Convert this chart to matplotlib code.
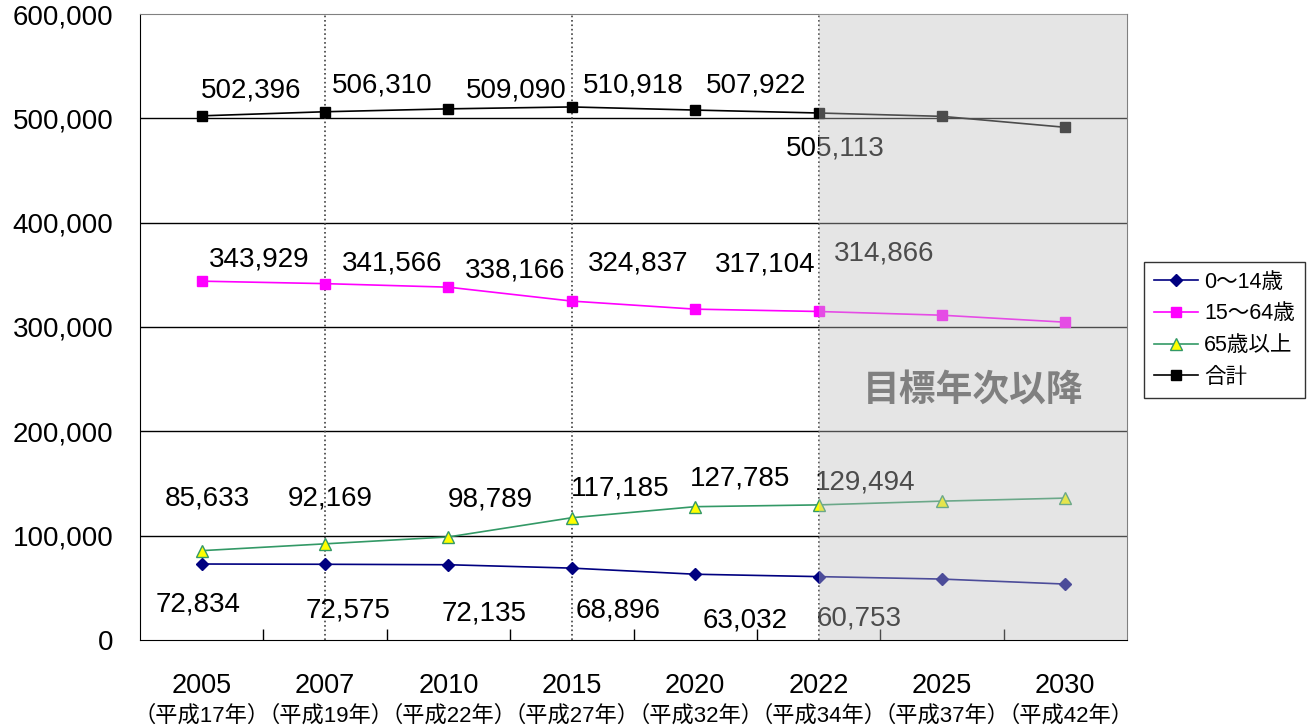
import matplotlib
matplotlib.use("Agg")
import matplotlib.pyplot as plt
from matplotlib.patches import Rectangle
from matplotlib.font_manager import FontProperties
import matplotlib.transforms as mtransforms

plt.rcParams['font.family'] = ['Liberation Sans', 'Noto Sans CJK JP', 'DejaVu Sans']

years = ["2005", "2007", "2010", "2015", "2020", "2022", "2025", "2030"]
eras = ["（平成17年）", "（平成19年）", "（平成22年）", "（平成27年）",
        "（平成32年）", "（平成34年）", "（平成37年）", "（平成42年）"]
series_names = ["0～14歳", "15～64歳", "65歳以上", "合計"]
age_0_14 = [72834, 72575, 72135, 68896, 63032, 60753, 58400, 53600]
age_15_64 = [343929, 341566, 338166, 324837, 317104, 314866, 311300, 304600]
age_65_plus = [85633, 92169, 98789, 117185, 127785, 129494, 133100, 136000]
total = [502396, 506310, 509090, 510918, 507922, 505113, 501900, 491400]
labelled_points = 6  # number of labelled points per series
yticks = [0, 100000, 200000, 300000, 400000, 500000, 600000]
shade_text = "目標年次以降"

fig = plt.figure(figsize=(13.11, 7.26), dpi=100)
ax = fig.add_axes([140/1311, 86/726, 987/1311, 626/726])
x = list(range(len(years)))

ax.plot(x, age_0_14, color='#000080', marker='D', markersize=6, lw=1.2, zorder=4,
        label=series_names[0])
ax.plot(x, age_15_64, color='#FF00FF', marker='s', markersize=6.5, lw=1.2, zorder=4,
        label=series_names[1])
ax.plot(x, age_65_plus, color='#339966', marker='^', markersize=8, lw=1.2,
        markerfacecolor='#FFFF00', markeredgecolor='#339966', zorder=4,
        label=series_names[2])
ax.plot(x, total, color='black', marker='s', markersize=6.5, lw=1.2, zorder=4,
        label=series_names[3])

ax.set_xlim(-0.5, len(years) - 0.5)
ax.set_ylim(0, 600000)
ax.set_yticks(yticks)
ax.set_yticklabels([f"{v:,}" for v in yticks], fontsize=20)
ax.tick_params(axis='y', length=0, pad=19)
for lab in ax.get_yticklabels():
    lab.set_verticalalignment('center_baseline')
for v in yticks[1:-1]:
    ax.axhline(v, color='black', lw=1, zorder=1)

ax.set_xticks(x)
ax.set_xticklabels([])
ax.tick_params(axis='x', which='major', length=0)
ax.set_xticks([i + 0.5 for i in range(len(years) - 1)], minor=True)
ax.tick_params(axis='x', which='minor', direction='in', length=8, width=1, color='black')

trans = mtransforms.blended_transform_factory(ax.transData, ax.transAxes)
for i, (yr, er) in enumerate(zip(years, eras)):
    ax.text(i, -(683 - 640) / 626, yr, transform=trans, ha='center',
            va='center_baseline', fontsize=19.5)
    ax.text(i, -(714 - 640) / 626, er, transform=trans, ha='center',
            va='center_baseline', fontsize=16)

for xv in (1, 3, 5):
    ax.axvline(xv, color='#404040', ls=':', lw=1.2, zorder=3)

# label offsets from each mark, in pixels (dx right, dy up to the text baseline)
off_total = [(49, 18), (57, 19), (68, 11), (61, 14), (61, 18), (17, -43)]
off_1564 = [(58, 15), (67, 13), (67, 10), (66, 31), (70, 38), (66, 51)]
off_65 = [(6, 45), (5, 38), (42, 30), (48, 22), (45, 21), (47, 15)]
off_014 = [(-4, -47), (23, -53), (36, -56), (46, -49), (50, -53), (41, -49)]
for vals, offs in ((total, off_total), (age_15_64, off_1564),
                   (age_65_plus, off_65), (age_0_14, off_014)):
    for i in range(labelled_points):
        ax.annotate(f"{vals[i]:,}", xy=(i, vals[i]), xytext=offs[i],
                    textcoords='offset pixels', ha='center', va='baseline',
                    fontsize=20, color='black', zorder=3)

ax.add_patch(Rectangle((5, 0), 2.5, 600000, facecolor=(192/255, 192/255, 192/255),
                       alpha=0.4, edgecolor='none', zorder=5))
ax.text(6.25, 243000, shade_text, ha='center', va='center_baseline', fontsize=26.5,
        fontweight='bold', color='#808080', zorder=6, family='Noto Sans CJK JP')

for s in ('top', 'right'):
    ax.spines[s].set_color('#808080')
ax.spines['left'].set_color('black')
ax.spines['bottom'].set_color('black')

leg = ax.legend(loc='upper left', bbox_to_anchor=(1004/987, (640-262)/626),
                prop=FontProperties(family=['Liberation Sans', 'Noto Sans CJK JP'], size=15.5),
                frameon=True, fancybox=False, edgecolor='black',
                handlelength=2.05, borderpad=0.45, labelspacing=0.5, handletextpad=0.3,
                borderaxespad=0)
leg.get_frame().set_linewidth(1)

fig.savefig("out.png", dpi=100)
